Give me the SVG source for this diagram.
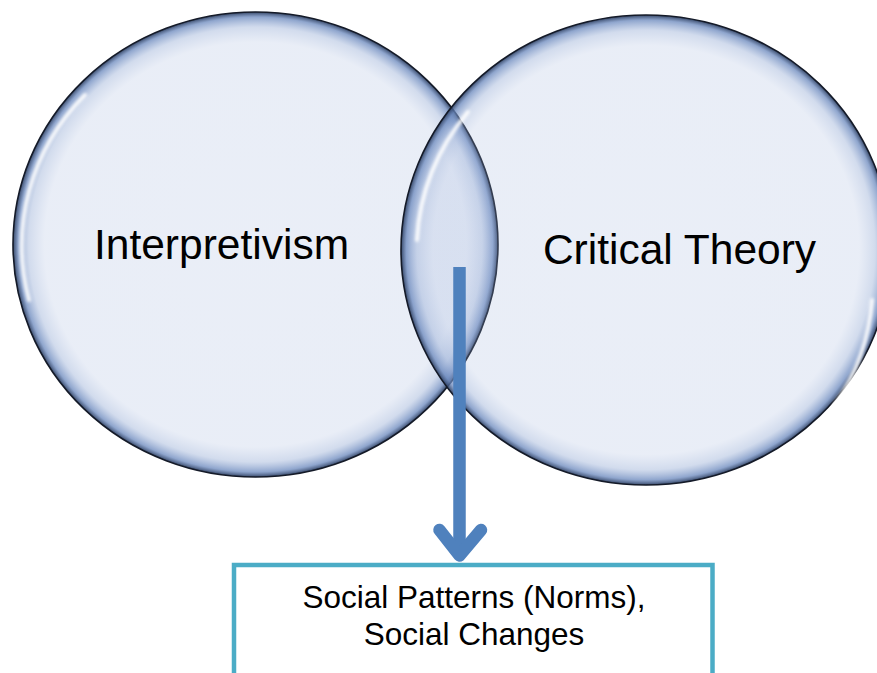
<svg xmlns="http://www.w3.org/2000/svg" width="877" height="673" viewBox="0 0 877 673">
  <style>
    .bubble-rim { fill: none; stroke: #141a28; stroke-width: 1.6; }
    .label { font-family: "Liberation Sans", Arial, sans-serif; fill: #000; }
    .big { font-size: 42.5px; }
    .small { font-size: 31.5px; }
    .hl { fill: none; stroke: #ffffff; stroke-width: 4; stroke-linecap: round; opacity: 0.9; filter: url(#soft); }
    .conn { fill: none; stroke: #4F81BD; stroke-width: 12.5; }
  </style>
  <defs>
    <radialGradient id="bubble" cx="0.5" cy="0.5" r="0.5">
      <stop offset="0" stop-color="#9FB3DB" stop-opacity="0.22"/>
      <stop offset="0.87" stop-color="#9FB3DB" stop-opacity="0.23"/>
      <stop offset="0.935" stop-color="#8EA6D2" stop-opacity="0.4"/>
      <stop offset="0.978" stop-color="#6A88BD" stop-opacity="0.75"/>
      <stop offset="1" stop-color="#2C3E60" stop-opacity="0.95"/>
    </radialGradient>
    <filter id="soft" x="-20%" y="-20%" width="140%" height="140%">
      <feGaussianBlur stdDeviation="1.8"/>
    </filter>
  </defs>

  <rect width="877" height="673" fill="#ffffff"/>

  <g id="node-interpretivism">
    <ellipse cx="255.5" cy="244.5" rx="242.5" ry="232.5" fill="url(#bubble)"/>
    <ellipse cx="255.5" cy="244.5" rx="242.5" ry="232.5" class="bubble-rim"/>
    <path class="hl" d="M 29 300 A 228 218 0 0 1 85 95"/>
    <text class="label big" x="221.5" y="259" text-anchor="middle">Interpretivism</text>
  </g>

  <g id="node-critical-theory">
    <ellipse cx="646" cy="250" rx="245" ry="235" fill="url(#bubble)"/>
    <ellipse cx="646" cy="250" rx="245" ry="235" class="bubble-rim"/>
    <path class="hl" d="M 417 240 A 230 220 0 0 1 468 112"/>
    <path class="hl" d="M 872 300 A 230 220 0 0 1 835 405"/>
    <text class="label big" x="679.5" y="264" text-anchor="middle">Critical Theory</text>
  </g>

  <g id="connectors">
    <line class="conn" x1="459.5" y1="267" x2="459.5" y2="554" stroke-linecap="butt"/>
    <polyline class="conn" points="439.5,530 459.5,555.5 481,530" stroke-linecap="round" stroke-linejoin="round"/>
  </g>

  <g id="node-outcome">
    <rect x="234" y="565" width="478.5" height="130" fill="#ffffff" stroke="#4BACC6" stroke-width="4.5"/>
    <text class="label small" x="474" y="608" text-anchor="middle">Social Patterns (Norms),</text>
    <text class="label small" x="474" y="645" text-anchor="middle">Social Changes</text>
  </g>
</svg>
